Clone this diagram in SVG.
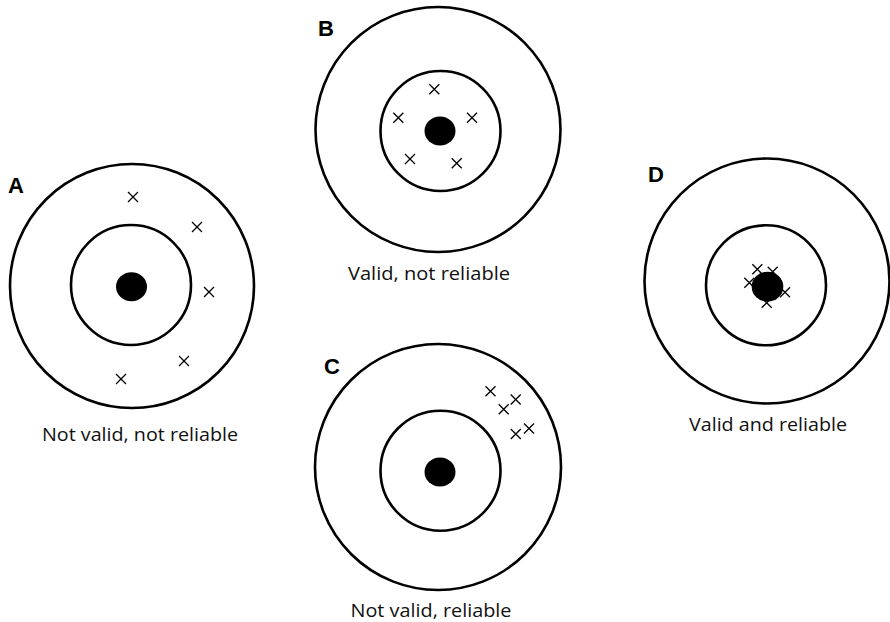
<svg xmlns="http://www.w3.org/2000/svg" width="890" height="622" viewBox="0 0 890 622">
<style>
.ring{fill:none;stroke:#000;stroke-width:2.6}
.dot{fill:#000}
.x{stroke:#000;stroke-width:1.3;fill:none}
.let{font-family:"Liberation Sans",Arial,sans-serif;font-weight:bold;font-size:22px;fill:#000}
.cap{font-family:"Open Sans","Liberation Sans",sans-serif;font-size:18px;fill:#111;text-anchor:middle}
</style>
<defs>
<path id="cr" d="M-5,-5L5,5M-5,5L5,-5" class="x"/>
</defs>
<rect width="890" height="622" fill="#fff"/>
<g id="A">
<circle class="ring" cx="132" cy="286" r="122"/>
<circle class="ring" cx="131" cy="285" r="60"/>
<ellipse class="dot" cx="131.5" cy="286.7" rx="15.5" ry="14.5"/>
<use href="#cr" x="133" y="197"/>
<use href="#cr" x="197" y="227"/>
<use href="#cr" x="209" y="292"/>
<use href="#cr" x="184" y="361"/>
<use href="#cr" x="121" y="379"/>
<text class="let" x="8" y="193">A</text>
<text class="cap" x="140" y="441" textLength="196" lengthAdjust="spacingAndGlyphs">Not valid, not reliable</text>
</g>
<g id="B">
<circle class="ring" cx="438" cy="129.5" r="122.5"/>
<circle class="ring" cx="440.5" cy="131" r="60"/>
<ellipse class="dot" cx="440" cy="131" rx="15.5" ry="14.5"/>
<use href="#cr" x="434.3" y="89.3"/>
<use href="#cr" x="398.3" y="117.7"/>
<use href="#cr" x="472" y="117.7"/>
<use href="#cr" x="410" y="159"/>
<use href="#cr" x="456.7" y="163.3"/>
<text class="let" x="318" y="36">B</text>
<text class="cap" x="429" y="280" textLength="162" lengthAdjust="spacingAndGlyphs">Valid, not reliable</text>
</g>
<g id="C">
<circle class="ring" cx="438" cy="467" r="123"/>
<circle class="ring" cx="440.5" cy="470.7" r="60"/>
<ellipse class="dot" cx="440" cy="472" rx="15.5" ry="14.5"/>
<use href="#cr" x="490.5" y="391.2"/>
<use href="#cr" x="515.7" y="399.5"/>
<use href="#cr" x="503.7" y="409.2"/>
<use href="#cr" x="529" y="428.5"/>
<use href="#cr" x="515.8" y="434"/>
<text class="let" x="324" y="374">C</text>
<text class="cap" x="431" y="617" textLength="161" lengthAdjust="spacingAndGlyphs">Not valid, reliable</text>
</g>
<g id="D">
<circle class="ring" cx="767" cy="281" r="122.5"/>
<circle class="ring" cx="766" cy="285.3" r="60"/>
<ellipse class="dot" cx="767.5" cy="286.7" rx="15.8" ry="15"/>
<use href="#cr" x="757.3" y="269.3"/>
<use href="#cr" x="772.7" y="271.7"/>
<use href="#cr" x="749.3" y="282.7"/>
<use href="#cr" x="785" y="292.3"/>
<use href="#cr" x="766.7" y="302.7"/>
<text class="let" x="648" y="182">D</text>
<text class="cap" x="768" y="431" textLength="158" lengthAdjust="spacingAndGlyphs">Valid and reliable</text>
</g>
<g id="connectors"/>
</svg>
